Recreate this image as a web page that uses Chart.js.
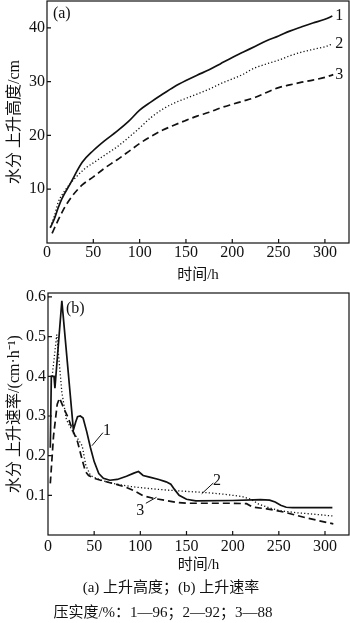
<!DOCTYPE html>
<html>
<head>
<meta charset="utf-8">
<script src="https://cdn.jsdelivr.net/npm/chart.js@4.4.1/dist/chart.umd.min.js"></script>
<style>
  body { margin: 0; background: #fff; }
  #wrap {
    position: relative; width: 350px; height: 623px; overflow: hidden;
    font-family: "Liberation Serif", "Noto Sans CJK SC", serif; color: #111;
  }
  canvas { position: absolute; left: 0; }
  #chartA { top: 0; }
  #chartB { top: 290px; }
  .caption {
    position: absolute; white-space: nowrap; font-size: 15px; line-height: 18px;
    transform: translateX(-50%);
  }
</style>
</head>
<body>
<div id="wrap">
  <canvas id="chartA" width="350" height="290"></canvas>
  <canvas id="chartB" width="350" height="290"></canvas>
  <div class="caption" style="left:171px; top:578px;">(a) 上升高度；(b) 上升速率</div>
  <div class="caption" style="left:163px; top:603px;">压实度/%：1—96；2—92；3—88</div>
</div>
<script>
// (a) rise height, cm
const hTime1 = [3.5, 8, 12, 16, 25, 38, 50, 62, 75, 88, 100, 112, 125, 137, 150, 162, 175, 187, 200, 212, 225, 237, 250, 262, 275, 287, 300, 308];
const hRise1 = [2.8, 4.5, 6.5, 8.2, 11, 15, 17.2, 19, 20.7, 22.6, 24.7, 26.2, 27.7, 29, 30.2, 31.2, 32.2, 33.3, 34.5, 35.5, 36.6, 37.6, 38.5, 39.4, 40.2, 40.9, 41.6, 42.2];
const hTime2 = [3.5, 8, 12, 20, 30, 40, 50, 62, 75, 88, 100, 112, 125, 137, 150, 162, 175, 187, 200, 212, 220, 225, 237, 250, 262, 275, 287, 300, 308];
const hRise2 = [3, 5, 7.5, 9.9, 12, 13.7, 14.9, 16.3, 17.8, 19.6, 21.4, 23.3, 24.9, 26, 26.9, 27.7, 28.6, 29.6, 30.5, 31.4, 32.2, 32.6, 33.3, 34, 34.8, 35.5, 36, 36.5, 37];
const hTime3 = [5.5, 10, 15, 20, 28, 38, 50, 62, 75, 88, 100, 112, 125, 137, 150, 162, 175, 187, 200, 212, 225, 237, 250, 262, 275, 287, 300, 309];
const hRise3 = [1.8, 3.5, 5.3, 6.9, 8.9, 10.8, 12.3, 13.9, 15.4, 17, 18.5, 19.8, 21, 21.9, 22.8, 23.6, 24.3, 25.1, 25.8, 26.4, 27.1, 28, 28.9, 29.4, 29.9, 30.3, 30.8, 31.3];

// (b) rise rate, cm/h
const rTime1 = [2.5, 3.6, 6.5, 7.5, 15, 27.5, 30, 32, 35, 38, 42, 46, 50, 55, 60, 67, 75, 85, 93, 98, 103, 110, 120, 128, 133, 137, 142, 150, 160, 200, 230, 240, 246, 252, 258, 265, 308];
const rRate1 = [0.22, 0.40, 0.40, 0.37, 0.59, 0.265, 0.285, 0.298, 0.30, 0.295, 0.26, 0.22, 0.185, 0.155, 0.143, 0.138, 0.14, 0.148, 0.156, 0.16, 0.15, 0.146, 0.14, 0.134, 0.128, 0.115, 0.1, 0.09, 0.086, 0.087, 0.089, 0.088, 0.083, 0.075, 0.07, 0.069, 0.069];
const rTime2 = [4.5, 9.5, 15, 20, 27, 33, 37, 41, 46, 55, 70, 90, 110, 130, 150, 170, 190, 210, 220, 228, 240, 255, 270, 290, 308];
const rRate2 = [0.40, 0.505, 0.36, 0.29, 0.26, 0.24, 0.225, 0.175, 0.15, 0.14, 0.13, 0.122, 0.117, 0.113, 0.11, 0.107, 0.103, 0.097, 0.09, 0.078, 0.068, 0.06, 0.056, 0.052, 0.048];
const rTime3 = [2.5, 6, 10, 12.5, 17, 21, 27.5, 32, 37, 40.5, 44, 50, 57, 65, 75, 85, 93, 103, 115, 128, 140, 150, 175, 200, 215, 222, 237, 255, 280, 309];
const rRate3 = [0.13, 0.25, 0.33, 0.345, 0.32, 0.3, 0.26, 0.235, 0.19, 0.16, 0.15, 0.143, 0.138, 0.133, 0.127, 0.12, 0.112, 0.099, 0.092, 0.087, 0.082, 0.08, 0.08, 0.08, 0.079, 0.07, 0.066, 0.058, 0.043, 0.028];

const timeTicks = [0, 50, 100, 150, 200, 250, 300];
const heightTicks = [10, 20, 30, 40];
const rateTicks = [0.1, 0.2, 0.3, 0.4, 0.5, 0.6];

// curve numbers and panel tags, in data units
const notesA = [
    {text: '(a)', x: 16, y: 42.6},
    {text: '1', x: 315.5, y: 42.3},
    {text: '2', x: 315.5, y: 37.0},
    {text: '3', x: 315.5, y: 31.2}
];
const notesB = [
    {text: '(b)', x: 29.5, y: 0.571},
    {text: '1', x: 64, y: 0.262},
    {text: '2', x: 183, y: 0.136},
    {text: '3', x: 100, y: 0.062}
];
const leadersB = [
    [47.6, 0.225, 59.5, 0.258],
    [166.5, 0.104, 179, 0.131],
    [106, 0.08, 117.5, 0.095]
];

const INK = '#111';
const FONT = '"Liberation Serif", "Noto Sans CJK SC", serif';

function toPoints(xs, ys) {
    return xs.map((x, i) => ({x: x, y: ys[i]}));
}

function seriesStyles() {
    return [
        {borderWidth: 1.7, borderDash: []},
        {borderWidth: 1.3, borderDash: [1.2, 2.2]},
        {borderWidth: 1.7, borderDash: [7, 4]}
    ];
}

// box around the plot with short inward ticks on the left and bottom
const framePlugin = {
    id: 'frame',
    afterDatasetsDraw(chart) {
        const {ctx, chartArea: a, scales} = chart;
        ctx.save();
        ctx.strokeStyle = INK;
        ctx.lineWidth = 1.2;
        ctx.strokeRect(a.left, a.top, a.right - a.left, a.bottom - a.top);
        ctx.beginPath();
        scales.x.ticks.forEach(t => {
            const px = scales.x.getPixelForValue(t.value);
            if (px <= a.left + 1) return;
            ctx.moveTo(px, a.bottom);
            ctx.lineTo(px, a.bottom - 4);
        });
        scales.y.ticks.forEach(t => {
            const py = scales.y.getPixelForValue(t.value);
            ctx.moveTo(a.left, py);
            ctx.lineTo(a.left + 4, py);
        });
        ctx.stroke();
        ctx.restore();
    }
};

const notesPlugin = {
    id: 'notes',
    afterDatasetsDraw(chart, args, opts) {
        const {ctx, scales} = chart;
        ctx.save();
        ctx.fillStyle = INK;
        ctx.strokeStyle = INK;
        ctx.lineWidth = 1;
        ctx.font = '16px ' + FONT;
        ctx.textAlign = 'center';
        ctx.textBaseline = 'middle';
        (opts.notes || []).forEach(n => {
            ctx.fillText(n.text, scales.x.getPixelForValue(n.x), scales.y.getPixelForValue(n.y));
        });
        (opts.leaders || []).forEach(l => {
            ctx.beginPath();
            ctx.moveTo(scales.x.getPixelForValue(l[0]), scales.y.getPixelForValue(l[1]));
            ctx.lineTo(scales.x.getPixelForValue(l[2]), scales.y.getPixelForValue(l[3]));
            ctx.stroke();
        });
        ctx.restore();
    }
};

function buildChart(canvasId, cfg) {
    const styles = seriesStyles();
    const datasets = cfg.series.map((s, i) => ({
        data: toPoints(s[0], s[1]),
        borderColor: INK,
        borderWidth: styles[i].borderWidth,
        borderDash: styles[i].borderDash,
        pointRadius: 0,
        fill: false,
        tension: cfg.smooth ? 0.4 : 0,
        cubicInterpolationMode: cfg.smooth ? 'monotone' : 'default'
    }));

    return new Chart(document.getElementById(canvasId), {
        type: 'line',
        data: {datasets: datasets},
        options: {
            responsive: false,
            animation: false,
            devicePixelRatio: 1,
            layout: {padding: {top: cfg.padTop, right: 1, left: 0, bottom: 0}},
            plugins: {
                legend: {display: false},
                tooltip: {enabled: false},
                notes: {notes: cfg.notes, leaders: cfg.leaders}
            },
            scales: {
                x: {
                    type: 'linear',
                    min: 0,
                    max: 326,
                    afterBuildTicks: s => { s.ticks = timeTicks.map(v => ({value: v})); },
                    afterFit: s => { s.height = cfg.xHeight; s.paddingLeft = 0; s.paddingRight = 0; },
                    grid: {display: false, drawTicks: false},
                    border: {display: false},
                    ticks: {color: INK, font: {family: FONT, size: 16}, padding: cfg.xTickPad, maxRotation: 0, autoSkip: false},
                    title: {display: true, text: '时间/h', color: INK, font: {family: FONT, size: 15}, padding: {top: 0, bottom: 6}}
                },
                y: {
                    type: 'linear',
                    min: 0,
                    max: cfg.yMax,
                    afterBuildTicks: s => { s.ticks = cfg.yTicks.map(v => ({value: v})); },
                    afterFit: s => { s.width = cfg.yWidth; s.paddingTop = 0; s.paddingBottom = 0; },
                    grid: {display: false, drawTicks: false},
                    border: {display: false},
                    ticks: {color: INK, font: {family: FONT, size: 16}, padding: 2, autoSkip: false},
                    title: {display: true, text: cfg.yTitle, color: INK, font: {family: FONT, size: 16}, padding: {top: 5, bottom: 0}}
                }
            }
        },
        plugins: [framePlugin, notesPlugin]
    });
}

buildChart('chartA', {
    series: [[hTime1, hRise1], [hTime2, hRise2], [hTime3, hRise3]],
    smooth: true,
    yMax: 45,
    yTicks: heightTicks,
    yTitle: '水分 上升高度/cm',
    yWidth: 47,
    xHeight: 47,
    xTickPad: 0,
    padTop: 1,
    notes: notesA,
    leaders: []
});

buildChart('chartB', {
    series: [[rTime1, rRate1], [rTime2, rRate2], [rTime3, rRate3]],
    smooth: false,
    yMax: 0.61,
    yTicks: rateTicks,
    yTitle: '水分 上升速率/(cm·h⁻¹)',
    yWidth: 48,
    xHeight: 45,
    xTickPad: 2,
    padTop: 3,
    notes: notesB,
    leaders: leadersB
});
</script>
</body>
</html>
